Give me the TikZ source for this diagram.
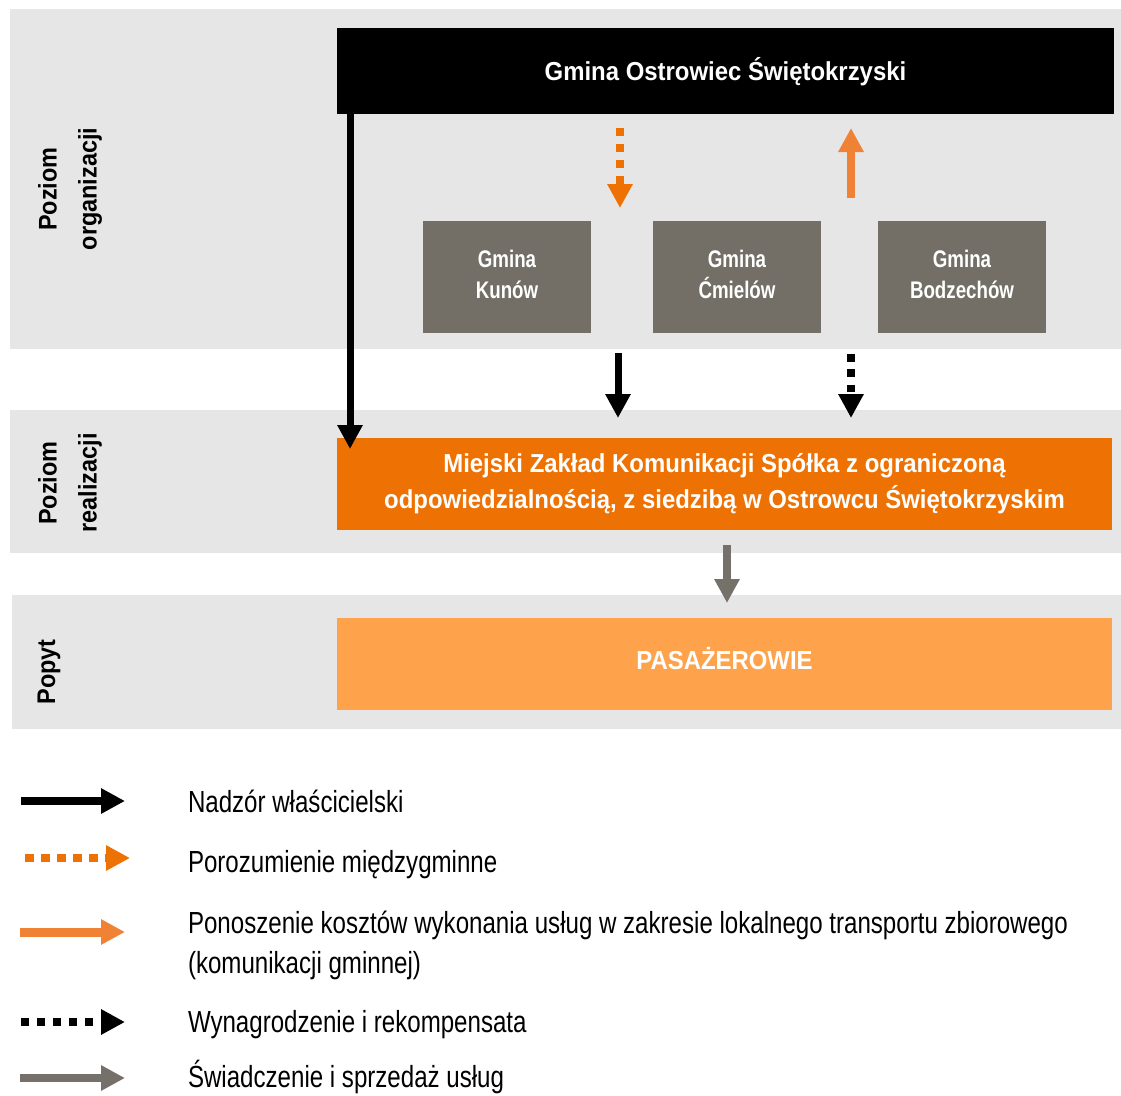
\documentclass[tikz,border=0pt]{standalone}
\usepackage{fontspec}
\setmainfont{Liberation Sans}[FakeStretch=0.92]
\newfontfamily\narrowsans{Liberation Sans}[FakeStretch=0.78]
\newfontfamily\keysans{Liberation Sans}[FakeStretch=0.79]
\usetikzlibrary{positioning, arrows.meta}
\definecolor{band}{HTML}{E6E6E6}
\definecolor{mzkorange}{HTML}{EE7203}
\definecolor{paxorange}{HTML}{FFA24C}
\definecolor{communegray}{HTML}{736F67}
\definecolor{costorange}{HTML}{F08236}
\definecolor{servicegray}{HTML}{75716A}

\begin{document}
\begin{tikzpicture}[x=1pt, y=-1pt,
  every node/.style={inner sep=0pt, outer sep=0pt},
  panel/.style={rectangle, fill=band, anchor=north west, minimum width=1111pt},
  block/.style={rectangle, anchor=north west, text=white, align=center, font=\fontsize{26}{36}\selectfont\bfseries},
  commune/.style={block, fill=communegray, minimum width=168pt, minimum height=112pt, font=\narrowsans\fontsize{24}{31}\selectfont\bfseries},
  level/.style={rotate=90, align=center, font=\fontsize{25.5}{40}\selectfont\bfseries},
  key/.style={anchor=base west, align=left, font=\keysans\fontsize{30.5}{40}\selectfont},
  headed/.style={-{Triangle[length=24pt, width=24pt]}},
  owner/.style={headed, line width=7pt, black},
  accord/.style={headed, line width=7.5pt, mzkorange, dash pattern=on 7.5pt off 8.5pt},
  funding/.style={headed, line width=7.5pt, costorange},
  pay/.style={headed, line width=7.5pt, black, dash pattern=on 7.7pt off 7.6pt},
  serve/.style={headed, line width=8pt, servicegray}
]
  \useasboundingbox (0,0) rectangle (1121,1095);

  % levels
  \node[panel, minimum height=340pt] (orgband) at (10,9) {};
  \node[panel, minimum height=143pt] (realband) at (10,410) {};
  \node[panel, minimum width=1109pt, minimum height=134pt] (demandband) at (12,595) {};
  \node[level] (orglabel) at (70,189) {Poziom\\organizacji};
  \node[level] (reallabel) at (70,483) {Poziom\\realizacji};
  \node[level] (demandlabel) at (49,672) {Popyt};

  % boxes
  \node[block, fill=black, minimum width=777pt, minimum height=86pt, text height=18.6pt, text depth=0pt] (ostrowiec) at (337,28) {Gmina Ostrowiec Świętokrzyski};
  \node[commune, text depth=6pt] (kunow) at (423,221) {Gmina\\Kunów};
  \node[commune, text depth=6pt] (cmielow) at (653,221) {Gmina\\Ćmielów};
  \node[commune, text depth=6pt] (bodzechow) at (878,221) {Gmina\\Bodzechów};
  \node[block, fill=mzkorange, minimum width=775pt, minimum height=92pt] (mzk) at (337,438)
    {Miejski Zakład Komunikacji Spółka z ograniczoną\\odpowiedzialnością, z siedzibą w Ostrowcu Świętokrzyskim};
  \node[block, fill=paxorange, minimum width=775pt, minimum height=92pt, text height=18.6pt, text depth=8pt] (pax) at (337,618) {PASAŻEROWIE};

  % arrows
  \coordinate (ownerhit) at (350,449);
  \draw[owner] (ostrowiec.south -| ownerhit) -- (ownerhit);
  \coordinate (accordtop) at (620,128);
  \coordinate (accordhit) at (620,208);
  \draw[accord] (accordtop) -- (accordhit);
  \coordinate (fundlow) at (851,198);
  \coordinate (fundtop) at (851,128);
  \draw[funding] (fundlow) -- (fundtop);
  \coordinate (ownertop) at (618,353);
  \coordinate (ownerlow) at (618,418);
  \draw[owner] (ownertop) -- (ownerlow);
  \coordinate (paytop) at (851,354);
  \coordinate (paylow) at (851,418);
  \draw[pay] (paytop) -- (paylow);
  \coordinate (servetop) at (727,545);
  \coordinate (servelow) at (727,603);
  \draw[serve] (servetop) -- (servelow);

  % legend
  \coordinate (k1) at (21,801);
  \coordinate (k1e) at (125,801);
  \draw[owner, line width=8.5pt] (k1) -- (k1e);
  \node[key] (keyowner) at (188,812) {Nadzór właścicielski};
  \coordinate (k2) at (25,858);
  \coordinate (k2e) at (130,858);
  \draw[accord, line width=8pt, dash pattern=on 9pt off 7pt] (k2) -- (k2e);
  \node[key] (keyaccord) at (188,872) {Porozumienie międzygminne};
  \coordinate (k3) at (20,932);
  \coordinate (k3e) at (125,932);
  \draw[funding, line width=9pt] (k3) -- (k3e);
  \node[key] (keyfunding) at (188,973) {Ponoszenie kosztów wykonania usług w zakresie lokalnego transportu zbiorowego\\(komunikacji gminnej)};
  \coordinate (k4) at (21,1022);
  \coordinate (k4e) at (125,1022);
  \draw[pay, line width=8pt, dash pattern=on 7.6pt off 8.4pt] (k4) -- (k4e);
  \node[key] (keypay) at (188,1032) {Wynagrodzenie i rekompensata};
  \coordinate (k5) at (20,1078);
  \coordinate (k5e) at (125,1078);
  \draw[serve, line width=8.3pt] (k5) -- (k5e);
  \node[key] (keyserve) at (188,1087) {Świadczenie i sprzedaż usług};
\end{tikzpicture}
\end{document}
